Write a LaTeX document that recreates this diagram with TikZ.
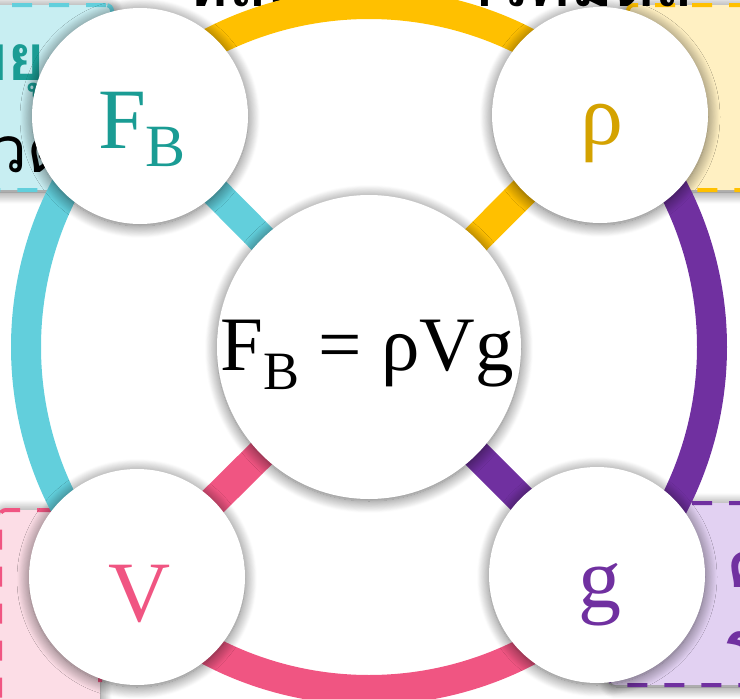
\documentclass[tikz,border=0pt]{standalone}
\usepackage{fontspec}
\setmainfont{Liberation Serif}
\newfontfamily\thai[Script=Thai]{Loma}
\usetikzlibrary{shadows.blur}
\definecolor{tealring}{HTML}{62CFDC}
\definecolor{tealtext}{HTML}{1A9C94}
\definecolor{tealfill}{HTML}{C8EEF2}
\definecolor{yelring}{HTML}{FFC000}
\definecolor{yeltext}{HTML}{D4A200}
\definecolor{yelfill}{HTML}{FFF0C2}
\definecolor{purring}{HTML}{7030A0}
\definecolor{purfill}{HTML}{E2D1F2}
\definecolor{pinkring}{HTML}{F05582}
\definecolor{pinkfill}{HTML}{FCDDE6}
\newcommand{\lowsub}[2]{\lower#1\hbox{\fontsize{#2}{#2}\selectfont B}}
\tikzset{
  softshadow/.style={blur shadow={shadow blur steps=14, shadow xshift=0pt, shadow yshift=-2pt, shadow blur radius=12pt, shadow opacity=60}},
  infobox/.style={rectangle, rounded corners=6pt, line width=4pt, dash pattern=on 20pt off 17pt, inner sep=0pt, softshadow},
  bubble/.style={circle, fill=white, inner sep=0pt, minimum size=216pt, softshadow},
  hub/.style={circle, fill=white, inner sep=0pt, minimum size=304pt, softshadow},
  ringline/.style={line width=30pt},
  lbl/.style={inner sep=0pt, font=\fontsize{86}{86}\selectfont},
  thaititle/.style={inner sep=0pt, anchor=base west, font=\thai\bfseries\fontsize{64}{64}\selectfont},
  thaibody/.style={inner sep=0pt, anchor=base west, font=\thai\fontsize{64}{64}\selectfont},
}
\begin{document}
\begin{tikzpicture}[x=1pt,y=-1pt]
\useasboundingbox (0,0) rectangle (740,699);
% info boxes (mostly outside the frame)
\node[infobox, draw=tealring, fill=tealfill, minimum width=312pt, minimum height=185pt] (boxFB) at (-44,97.5) {};
\node[infobox, draw=yelring, fill=yelfill, minimum width=312pt, minimum height=185pt] (boxRho) at (784,97.5) {};
\node[infobox, draw=pinkring, fill=pinkfill, minimum width=100pt, minimum height=400pt] (boxV) at (50,710) {};
\node[infobox, draw=purring, fill=purfill, minimum width=330pt, minimum height=182pt] (boxG) at (775,594) {};
\node[thaititle, text=tealtext] (tFB) at (7,80) {\llap{แรงพ}ยุง};
\node[thaibody, text=black] (bFB) at (-9,172) {\llap{แรงที่ของเหล}วดัน};
\node[thaititle, text=purring] (tG1) at (726,587) {ความเร่ง};
\node[thaititle, text=purring] (tG2) at (726,680) {โน้มถ่วง};
\node[thaititle, text=black] (title) at (186,6) {หลักของอาร์คิมิดีส};
% centres of the bubbles
\coordinate (pc) at (369,347);
\coordinate (pfb) at (140,116);
\coordinate (prho) at (600,115);
\coordinate (pv) at (137,577);
\coordinate (pg) at (597,575);
% ring and spokes
\draw[ringline, yelring] (pc) ++(225:343) arc[start angle=225, end angle=315, radius=343];
\draw[ringline, purring] (pc) ++(-45:343) arc[start angle=-45, end angle=45, radius=343];
\draw[ringline, pinkring] (pc) ++(45:343) arc[start angle=45, end angle=135, radius=343];
\draw[ringline, tealring] (pc) ++(135:343) arc[start angle=135, end angle=225, radius=343];
\draw[ringline, tealring] (pc) -- (pfb);
\draw[ringline, yelring] (pc) -- (prho);
\draw[ringline, pinkring] (pc) -- (pv);
\draw[ringline, purring] (pc) -- (pg);
% bubbles
\node[hub] (cc) at (pc) {};
\node[bubble] (fb) at (pfb) {};
\node[bubble] (rho) at (prho) {};
\node[bubble] (v) at (pv) {};
\node[bubble] (g) at (pg) {};
\node[lbl, text=tealtext] (lfb) at (142,129) {F\lowsub{0.21em}{60}};
\node[lbl, text=yeltext] (lrho) at (602,133) {ρ};
\node[lbl, text=pinkring] (lv) at (140,594) {V};
\node[lbl, text=purring] (lg) at (600,595) {g};
\node[inner sep=0pt, font=\fontsize{77}{77}\selectfont] (eq) at (367,355) {F\lowsub{0.25em}{54} = ρVg};
\end{tikzpicture}
\end{document}
